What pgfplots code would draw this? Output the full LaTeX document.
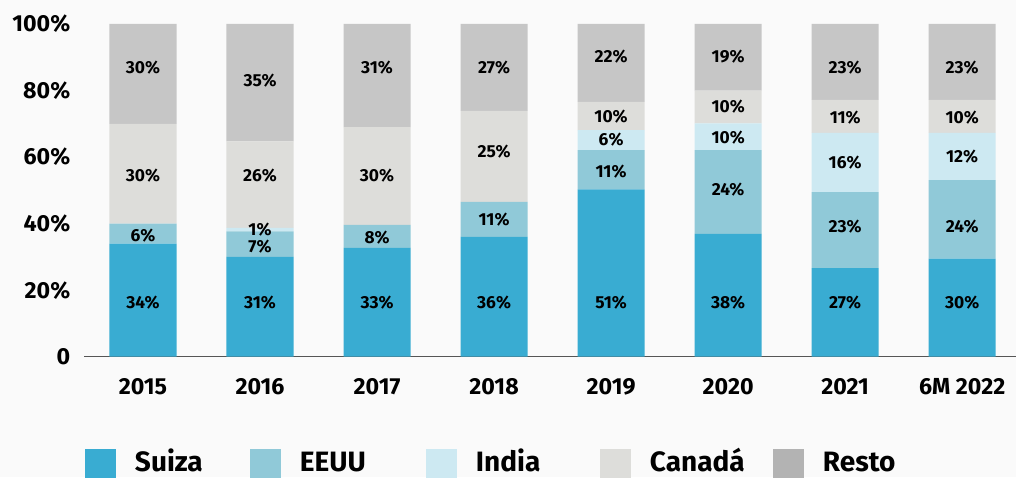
\documentclass[border=0pt]{standalone}
\usepackage{pgfplots}
\pgfplotsset{compat=1.18}
\usepackage{pgfplotstable}
\usepackage{fontspec}
\setmainfont{Fira Sans}

\definecolor{bg}{HTML}{FAFAFA}
\definecolor{suiza}{HTML}{39ACD2}
\definecolor{eeuu}{HTML}{90C9D8}
\definecolor{india}{HTML}{CDE9F2}
\definecolor{canada}{HTML}{DDDDDA}
\definecolor{resto}{HTML}{C6C6C6}
\definecolor{restoleg}{HTML}{B3B3B3}
\definecolor{axisgray}{HTML}{555555}

\newcommand{\tickfont}{\fontsize{11.6}{12}\selectfont\bfseries}
\newcommand{\labfont}{\fontsize{8.7}{9}\selectfont\bfseries}

% shares per year: x = 0..7 -> 2015 .. 6M 2022
\pgfplotstableread{
x suiza eeuu india canada resto
0 34.0 6.0  0.0  30.0 30.0
1 30.0 7.7  1.0  26.0 35.3
2 32.7 6.9  0.0  29.4 31.0
3 36.0 10.5 0.0  27.4 26.1
4 50.3 11.8 6.0  8.5  23.4
5 36.9 25.2 8.0  9.9  20.0
6 26.6 22.9 17.8 9.9  22.8
7 29.5 23.6 14.2 9.9  22.8
}\shares

% printed labels and where they sit
\pgfplotstableread{
x y lab
0 86.9 30
0 54.4 30
0 36.4 6
0 16.3 34
1 82.9 35
1 54.4 26
1 38.3 1
1 33.1 7
1 16.3 31
2 86.9 31
2 54.4 30
2 35.9 8
2 16.3 33
3 86.9 27
3 61.8 25
3 41.1 11
3 16.3 36
4 90.2 22
4 72.3 10
4 65.3 6
4 55.6 11
4 16.3 51
5 90.2 19
5 75.1 10
5 65.9 10
5 50.3 24
5 16.3 38
6 86.9 23
6 72.0 11
6 58.4 16
6 39.1 23
6 16.3 27
7 86.9 23
7 72.0 10
7 60.1 12
7 39.1 24
7 16.3 30
}\labels

\pgfplotsset{frame/.style={
  scale only axis,
  width=466pt, height=166.35pt,
  xmin=-0.504, xmax=7.46,
  ymin=0, ymax=100,
}}

\begin{document}
\begin{tikzpicture}
\path[fill=bg, use as bounding box] (-42pt,-60.15pt) rectangle (466pt,178.35pt);
\begin{axis}[
  frame,
  ybar stacked,
  bar width=0.573,
  axis x line*=bottom,
  axis y line*=left,
  x axis line style={draw=axisgray, line width=0.75pt, -},
  y axis line style={draw=none},
  major tick length=0pt,
  tick style={draw=none},
  xtick={0,...,7},
  xticklabels={2015,2016,2017,2018,2019,2020,2021,6M 2022},
  ytick={0,20,40,60,80,100},
  yticklabels={0,20\%,40\%,60\%,80\%,100\%},
  xticklabel style={font=\tickfont, inner sep=0pt, yshift=-10.5pt},
  yticklabel style={font=\tickfont, inner sep=0pt, xshift=-6.7pt},
  legend columns=5,
  legend image code/.code={\fill[#1] (0pt,-5.5pt) rectangle (15.5pt,11.5pt);},
  legend style={at={(0.00107,-0.2774)}, anchor=north west, draw=none, fill=none,
    inner sep=0pt, outer sep=0pt,
    font=\fontsize{14}{15}\selectfont\bfseries,
    nodes={inner sep=0pt, text height=10.5pt, text depth=0pt, anchor=base west},
    /tikz/every odd column/.append style={column sep=9.5pt}},
]
\addplot[fill=suiza, draw=none] table[x=x, y=suiza] {\shares};
\addlegendentry{\makebox[57.5pt][l]{Suiza}}
\addplot[fill=eeuu, draw=none] table[x=x, y=eeuu] {\shares};
\addlegendentry{\makebox[63pt][l]{EEUU}}
\addplot[fill=india, draw=none] table[x=x, y=india] {\shares};
\addlegendentry{\makebox[62pt][l]{India}}
\addplot[fill=canada, draw=none] table[x=x, y=canada] {\shares};
\addlegendentry{\makebox[61.5pt][l]{Canadá}}
\addplot[fill=resto, draw=none, legend image post style={fill=restoleg}] table[x=x, y=resto] {\shares};
\addlegendentry{Resto}
\end{axis}
\begin{axis}[frame, hide axis]
\addplot[only marks, mark=none, draw=none,
  point meta=explicit symbolic,
  nodes near coords={\pgfplotspointmeta\%},
  nodes near coords align={center},
  every node near coord/.append style={font=\labfont, inner sep=0pt, anchor=center},
] table[x=x, y=y, meta=lab] {\labels};
\end{axis}
\end{tikzpicture}
\end{document}
